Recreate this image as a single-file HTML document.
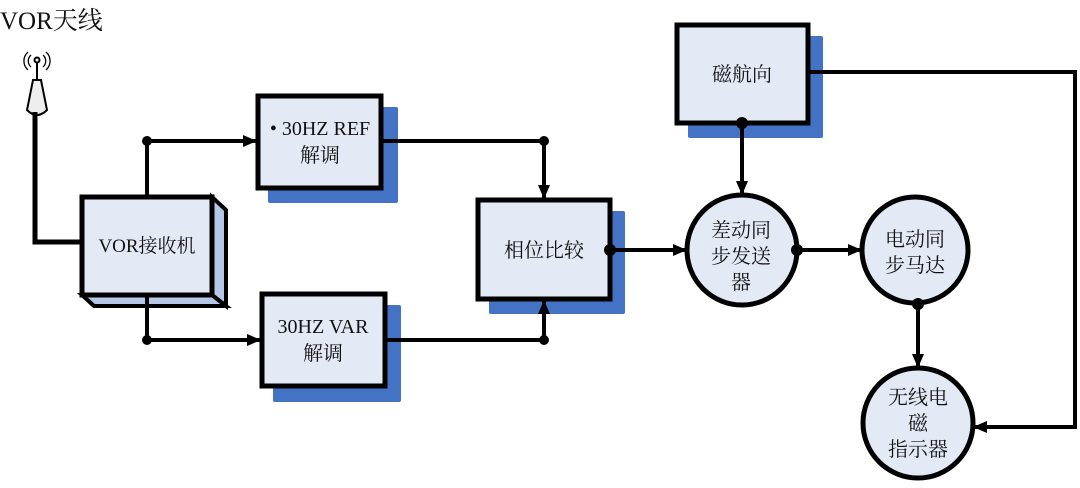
<!DOCTYPE html>
<html><head><meta charset="utf-8"><style>
body{margin:0;background:#fff;width:1080px;height:483px;overflow:hidden}
text{font-family:"Liberation Serif","Noto Serif CJK SC",serif;fill:#111}
</style></head><body>
<svg width="1080" height="483" viewBox="0 0 1080 483" xmlns="http://www.w3.org/2000/svg">
<defs><marker id="a" markerWidth="14" markerHeight="14" refX="13" refY="7" orient="auto" markerUnits="userSpaceOnUse"><path d="M0,1 L14,7 L0,13z" fill="#000"/></marker></defs>
<text x="0" y="29" font-size="25">VOR天线</text>
<!-- antenna -->
<g stroke="#000" stroke-width="2" fill="none">
<path d="M31,55 a8,8 0 0 0 0,12 M43,55 a8,8 0 0 1 0,12 M28,52 a12,12 0 0 0 0,18 M46,52 a12,12 0 0 1 0,18" stroke-width="1.3"/>
<circle cx="37" cy="60" r="2.5"/>
<line x1="37" y1="62" x2="37" y2="82"/>
<path d="M33,80 L41,80 L47,110 Q37,120 27,110 Z" fill="#eee"/>
</g>
<g stroke="#000" stroke-width="5" fill="none">
<polyline points="35,112 35,242 82,242"/>
<polygon points="212,197 226,210 226,306 212,295" fill="#b4c7e7" stroke-width="4"/>
<polygon points="82,295 212,295 226,306 94,306" fill="#b4c7e7" stroke-width="4"/>
</g>
<rect x="82" y="197" width="130" height="98" fill="#e3eaf6" stroke="#000" stroke-width="5"/>
<text x="147" y="252" font-size="19" text-anchor="middle">VOR接收机</text>
<rect x="268" y="107" width="130" height="96" fill="#4472c4" rx="2"/>
<rect x="273" y="305" width="128" height="97" fill="#4472c4" rx="2"/>
<rect x="489" y="211" width="136" height="103" fill="#4472c4" rx="2"/>
<rect x="688" y="36" width="135" height="102" fill="#4472c4" rx="2"/>
<g fill="#e3eaf6" stroke="#000" stroke-width="5">
<rect x="258" y="96" width="123" height="92"/>
<rect x="262" y="294" width="123" height="92"/>
<rect x="478" y="200" width="132" height="99"/>
<rect x="677" y="25" width="131" height="98"/>
<circle cx="742" cy="250" r="55"/>
<circle cx="915" cy="250" r="53"/>
<circle cx="918" cy="423" r="55"/>
</g>
<g font-size="20" text-anchor="middle">
<text x="320" y="135">• 30HZ  REF</text>
<text x="320" y="162">解调</text>
<text x="323" y="333">30HZ  VAR</text>
<text x="323" y="360">解调</text>
<text x="544" y="257">相位比较</text>
<text x="742" y="81">磁航向</text>
<text x="741" y="237">差动同</text>
<text x="741" y="263">步发送</text>
<text x="741" y="289">器</text>
<text x="915" y="246">电动同</text>
<text x="915" y="272">步马达</text>
<text x="918" y="404">无线电</text>
<text x="918" y="430">磁</text>
<text x="918" y="456">指示器</text>
</g>
<g stroke="#000" stroke-width="4" fill="none">
<polyline points="147,197 147,141 256,141" marker-end="url(#a)"/>
<polyline points="147,295 147,340 260,340" marker-end="url(#a)"/>
<polyline points="381,141 544,141 544,198" marker-end="url(#a)"/>
<polyline points="385,340 544,340 544,301" marker-end="url(#a)"/>
<line x1="610" y1="250" x2="686" y2="250" marker-end="url(#a)"/>
<line x1="742" y1="123" x2="742" y2="194" marker-end="url(#a)"/>
<line x1="797" y1="250" x2="861" y2="250" marker-end="url(#a)"/>
<line x1="918" y1="303" x2="918" y2="367" marker-end="url(#a)"/>
<polyline points="808,72 1075,72 1075,427 974,427" marker-end="url(#a)"/>
</g>
<g fill="#000">
<circle cx="147" cy="141" r="5"/><circle cx="147" cy="340" r="5"/>
<circle cx="544" cy="141" r="5"/><circle cx="544" cy="340" r="5"/>
<circle cx="610" cy="250" r="6"/><circle cx="742" cy="123" r="6"/>
<circle cx="797" cy="250" r="6"/><circle cx="918" cy="304" r="6"/>
</g>
</svg>
</body></html>
